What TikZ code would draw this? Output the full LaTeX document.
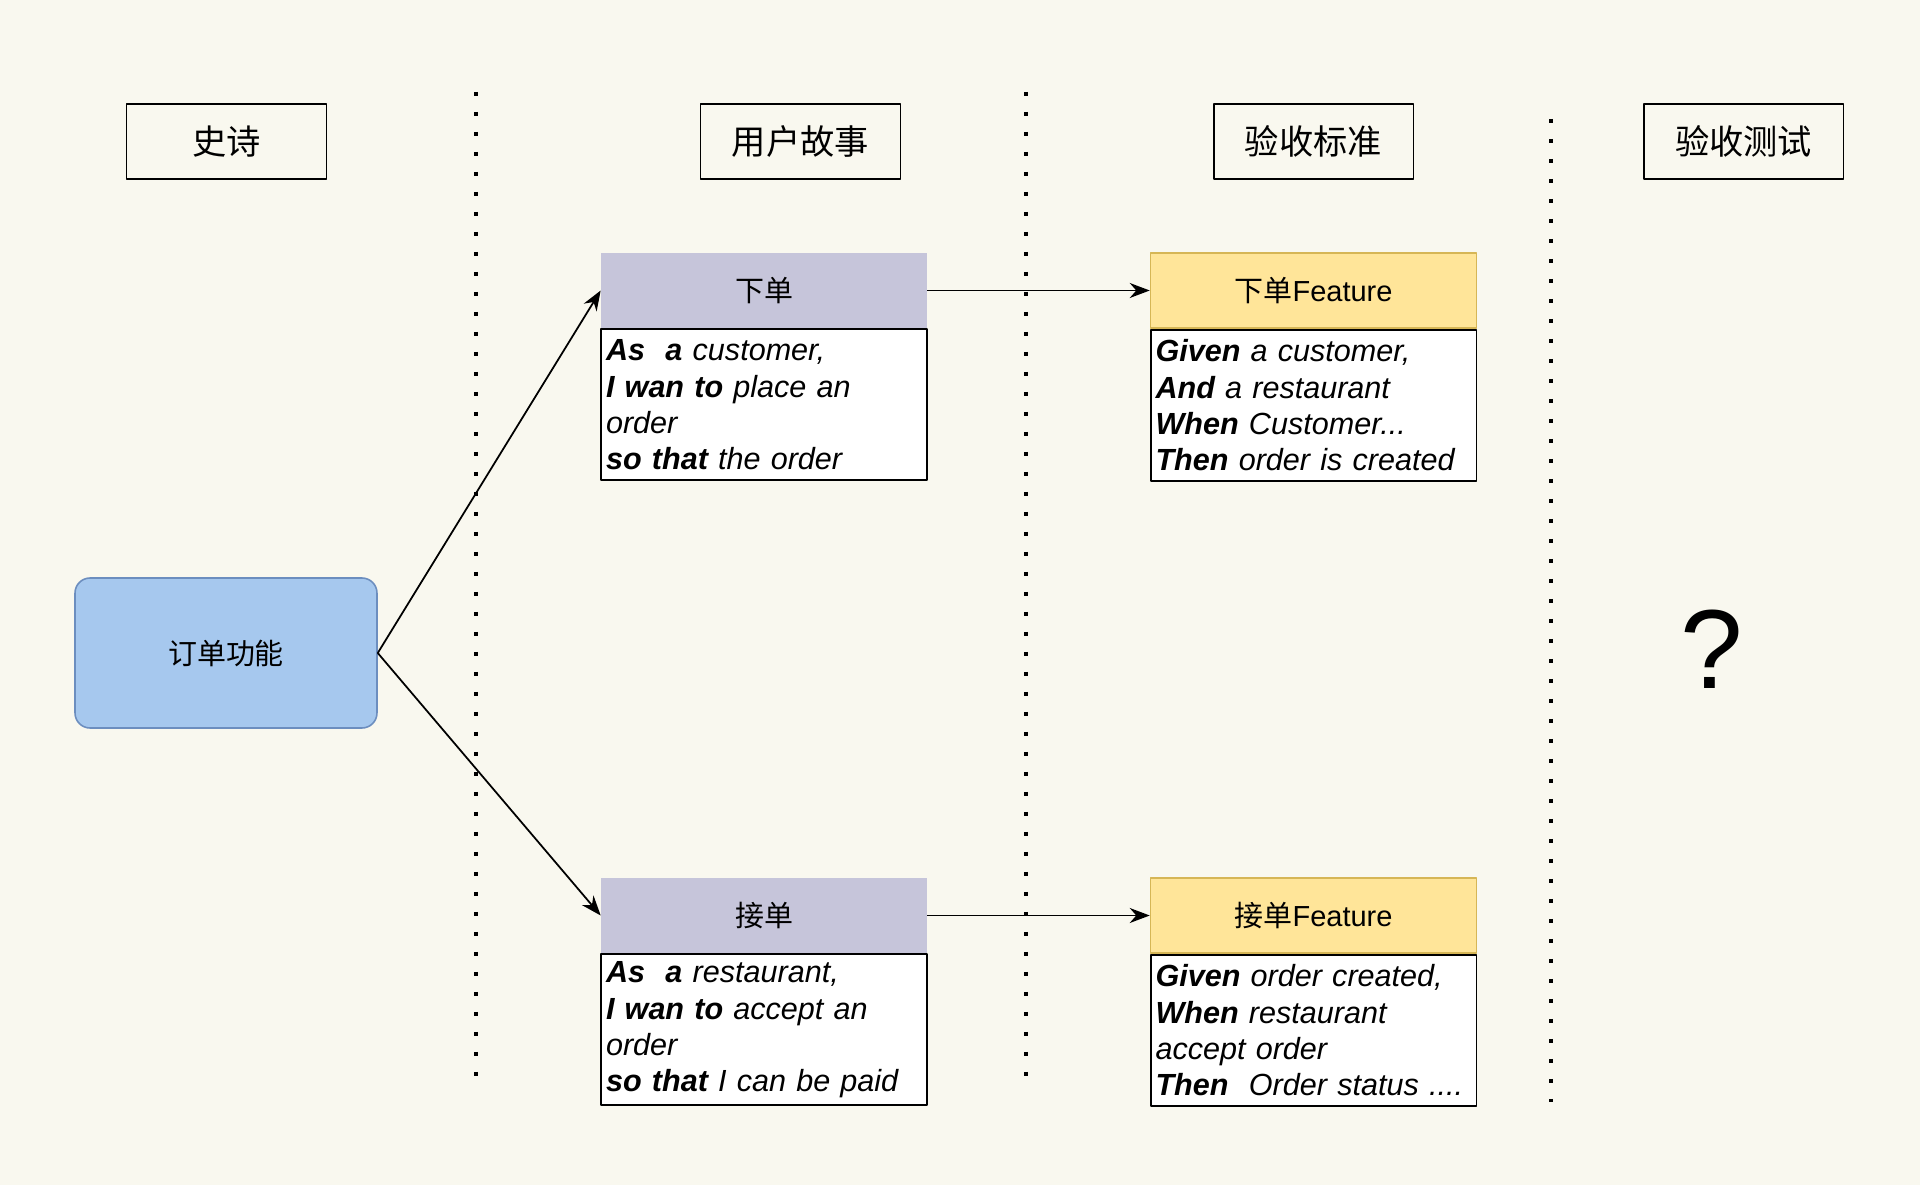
\documentclass[tikz,border=0pt]{standalone}
\usepackage{fontspec}
\setmainfont{Liberation Sans}
\newfontfamily\cjk{Noto Sans CJK SC}
\usetikzlibrary{positioning,arrows.meta}
\definecolor{bgcream}{HTML}{F9F8EF}
\definecolor{headpurple}{HTML}{C6C5DA}
\definecolor{featyellow}{HTML}{FFE599}
\definecolor{featedge}{HTML}{D6B656}
\definecolor{epicblue}{HTML}{A6C8EE}
\definecolor{epicedge}{HTML}{6C8EBF}
\tikzset{
	colhead/.style={draw, line width=1.1pt, minimum width=4cm, minimum height=1.5cm, inner sep=0pt, font=\cjk\fontsize{19.5}{22}\selectfont},
	storyhead/.style={fill=headpurple, minimum width=6.52cm, minimum height=1.5cm, inner sep=0pt, font=\cjk\fontsize{16.5}{20}\selectfont},
	feathead/.style={fill=featyellow, draw=featedge, line width=0.9pt, minimum width=6.52cm, minimum height=1.5cm, inner sep=0pt, font=\cjk\fontsize{16.5}{20}\selectfont},
	cardbody/.style={draw, fill=white, line width=1.1pt, minimum width=6.52cm, minimum height=3.02cm, inner xsep=0.1cm, inner ysep=0pt, text width=6.32cm, align=left, font=\fontsize{17.4}{20.6}\selectfont\itshape},
	flow/.style={-{Stealth[length=0.4cm,width=0.3cm]}, line width=1pt}
}
\begin{document}
\begin{tikzpicture}[x=0.02cm, y=-0.02cm, line join=round]
	\fill[bgcream] (0,0) rectangle (1920,1185);
	\useasboundingbox (0,0) rectangle (1920,1185);
	\foreach \x/\ya/\yb in {476/92/1078, 1026/92/1078, 1551/119/1102}
		\draw[line width=0.08cm, dash pattern=on 0.08cm off 0.32cm] (\x,\ya) -- (\x,\yb);
	\node[colhead] (epichd) at (226.5,141.5) {史诗};
	\node[colhead] (storyhd) at (800.5,141.5) {用户故事};
	\node[colhead] (acchd) at (1313.5,141.5) {验收标准};
	\node[colhead] (testhd) at (1743.5,141.5) {验收测试};
	\node[draw=epicedge, fill=epicblue, line width=0.9pt, rounded corners=0.3cm, minimum width=6.04cm, minimum height=3cm, font=\cjk\fontsize{16.5}{20}\selectfont] (epic) at (226,653) {订单功能};
	\node[storyhead] (place) at (764,290.5) {下单};
	\node[cardbody, below=0pt of place] (placetxt) {\textbf{As\ \ a} customer,\\\textbf{I wan to} place an\\order\\\textbf{so that} the order};
	\node[storyhead] (accept) at (764,915.5) {接单};
	\node[cardbody, below=0pt of accept] (accepttxt) {\textbf{As\ \ a} restaurant,\\\textbf{I wan to} accept an\\order\\\textbf{so that} I can be paid};
	\node[feathead] (placefeat) at (1313.5,290.5) {下单{\fontspec{Liberation Sans}Feature}};
	\node[cardbody, below=0pt of placefeat] (placefeattxt) {\textbf{Given} a customer,\\\textbf{And} a restaurant\\\textbf{When} Customer...\\\textbf{Then} order is created};
	\node[feathead] (acceptfeat) at (1313.5,915.5) {接单{\fontspec{Liberation Sans}Feature}};
	\node[cardbody, below=0pt of acceptfeat] (acceptfeattxt) {\textbf{Given} order created,\\\textbf{When} restaurant\\accept order\\\textbf{Then}\ \ Order status ....};
	\node[font=\fontsize{64}{70}\selectfont] (qmark) at (1712,649) {?};
	\draw[flow] (epic.east) -- (place.west);
	\draw[flow] (epic.east) -- (accept.west);
	\draw[flow] (place.east) -- (placefeat.west);
	\draw[flow] (accept.east) -- (acceptfeat.west);
\end{tikzpicture}
\end{document}
